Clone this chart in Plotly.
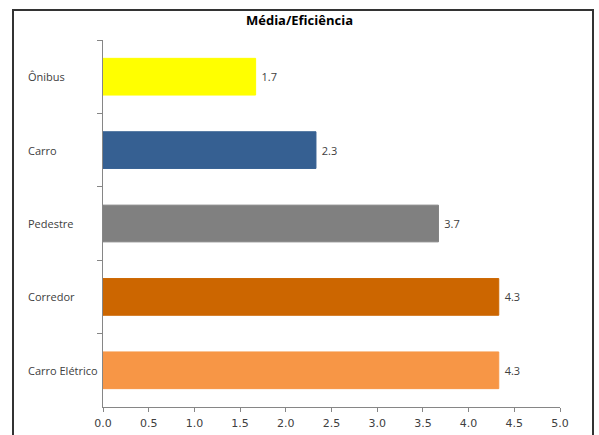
import plotly.graph_objects as go

# Categories and mean efficiency values
categories = ["Ônibus", "Carro", "Pedestre", "Corredor", "Carro Elétrico"]
values = [1.67, 2.33, 3.67, 4.33, 4.33]
colors = ["#FFFF00", "#366092", "#808080", "#CC6600", "#F79646"]
x_ticks = [0.0, 0.5, 1.0, 1.5, 2.0, 2.5, 3.0, 3.5, 4.0, 4.5, 5.0]

# Plot-area geometry in pixels
W, H = 599, 435
L, R, T, B = 103, 39, 40, 28
PW, PH = W - L - R, H - T - B

fig = go.Figure(
    go.Bar(
        x=values,
        y=categories,
        orientation="h",
        marker=dict(color=colors, line=dict(color=colors, width=1)),
        text=values,
        texttemplate=" %{x:.1f}",
        textposition="outside",
        textfont=dict(size=11, color="#404040", family="Open Sans"),
        cliponaxis=False,
        width=0.5,
    )
)

# Left-aligned category labels
annotations = [
    dict(
        text=c,
        x=(26 - L) / PW,
        xref="paper",
        xanchor="left",
        y=c,
        yref="y",
        yanchor="middle",
        showarrow=False,
        font=dict(size=11, color="#404040", family="Open Sans"),
    )
    for c in categories
]

fig.update_layout(
    width=W,
    height=H,
    margin=dict(l=L, r=R, t=T, b=B, autoexpand=False),
    paper_bgcolor="white",
    plot_bgcolor="white",
    showlegend=False,
    font=dict(family="Open Sans", size=11, color="#404040"),
    title=dict(
        text="<b>Média/Eficiência</b>",
        x=0.5,
        xanchor="center",
        y=1 - 20 / H,
        yanchor="middle",
        font=dict(size=13, color="#000000", family="Open Sans"),
    ),
    xaxis=dict(
        range=[0, 5],
        tickvals=x_ticks,
        ticktext=[f"{t:.1f}" for t in x_ticks],
        showgrid=False,
        zeroline=False,
        showline=True,
        linecolor="#868686",
        linewidth=1,
        ticks="outside",
        ticklen=4,
        tickcolor="#868686",
        ticklabelstandoff=2,
        automargin=False,
        tickfont=dict(size=11, color="#404040", family="DejaVu Sans"),
    ),
    yaxis=dict(
        categoryorder="array",
        categoryarray=categories,
        autorange="reversed",
        showgrid=False,
        zeroline=False,
        showline=True,
        linecolor="#868686",
        linewidth=1,
        ticks="outside",
        ticklen=5,
        tickcolor="#868686",
        tickson="boundaries",
        showticklabels=False,
        automargin=False,
    ),
    annotations=annotations,
    shapes=[
        dict(
            type="rect",
            xref="paper",
            yref="paper",
            x0=(13 - L) / PW,
            x1=(593 - L) / PW,
            y0=(T + PH - 445) / PH,
            y1=(T + PH - 10) / PH,
            line=dict(color="#333333", width=2),
            fillcolor="rgba(0,0,0,0)",
            layer="below",
        )
    ],
)

fig.write_html("out.html")
